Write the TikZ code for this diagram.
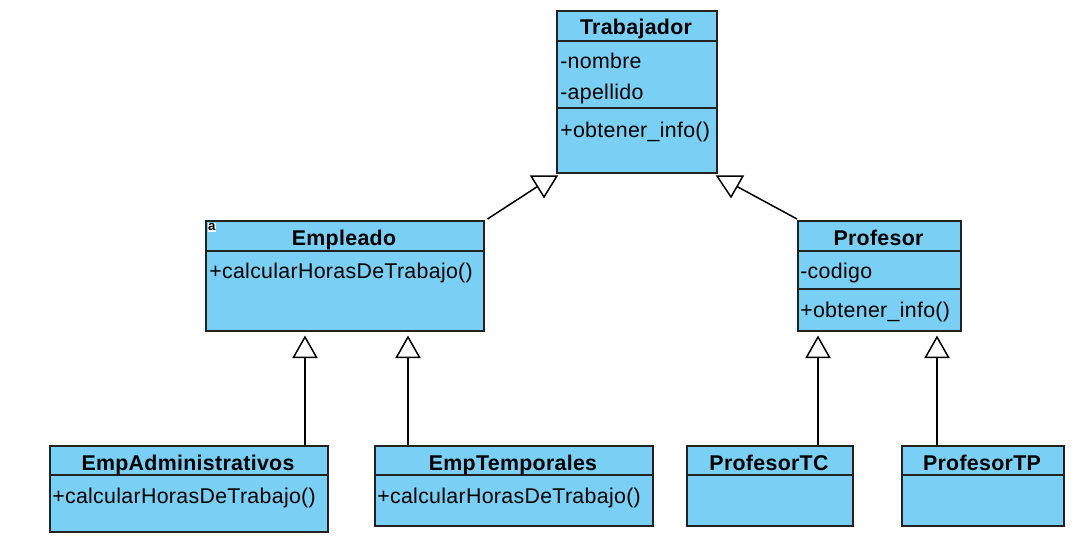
\documentclass[tikz,border=0pt]{standalone}
\usepackage{fontspec}
\setmainfont{Liberation Sans}[LetterSpace=1.5]
\usetikzlibrary{arrows.meta}
\definecolor{clsfill}{RGB}{122,207,244}
\definecolor{clsline}{RGB}{34,34,34}
\tikzset{
  cls/.style={draw=clsline, fill=clsfill, line width=1.125pt, inner sep=0pt, anchor=north west},
  div/.style={draw=clsline, line width=1.125pt},
  ttl/.style={font=\fontsize{16}{19}\selectfont\bfseries, inner sep=0pt, anchor=base},
  mem/.style={font=\fontsize{16}{19}\selectfont, inner sep=0pt, anchor=base west},
  conn/.style={draw=black, line width=1.125pt},
  inh/.style={conn, -{Triangle[open, length=17pt, width=19pt, line width=1.125pt]}, shorten >=3pt},
  tri/.style={draw=black, line width=1.125pt, fill=white, line join=miter},
}
\begin{document}
\begin{tikzpicture}[x=0.75pt, y=-0.75pt]
\useasboundingbox (0,0) rectangle (1082,550);

% class boxes
\node[cls, minimum width=120pt, minimum height=121.5pt] (trab) at (556,10) {};
\node[cls, minimum width=208.5pt, minimum height=82.5pt] (empl) at (205,220) {};
\node[cls, minimum width=122.25pt, minimum height=82.5pt] (prof) at (797,220) {};
\node[cls, minimum width=208.5pt, minimum height=64.5pt] (empadm) at (49,445) {};
\node[cls, minimum width=208.5pt, minimum height=60pt] (emptemp) at (374,445) {};
\node[cls, minimum width=124.5pt, minimum height=60pt] (proftc) at (686,445) {};
\node[cls, minimum width=121.5pt, minimum height=60pt] (proftp) at (901,445) {};

% dividers
\draw[div] (trab.west |- 0,41) -- (trab.east |- 0,41);
\draw[div] (trab.west |- 0,108) -- (trab.east |- 0,108);
\draw[div] (empl.west |- 0,251) -- (empl.east |- 0,251);
\draw[div] (prof.west |- 0,251) -- (prof.east |- 0,251);
\draw[div] (prof.west |- 0,289) -- (962,289);
\draw[div] (empadm.west |- 0,475) -- (empadm.east |- 0,475);
\draw[div] (emptemp.west |- 0,475) -- (emptemp.east |- 0,475);
\draw[div] (proftc.west |- 0,475) -- (proftc.east |- 0,475);
\draw[div] (proftp.west |- 0,475) -- (proftp.east |- 0,475);

% texts
\node[ttl] (trabT) at (636,34) {Trabajador};
\node[mem] (trabA1) at (560,68) {-nombre};
\node[mem] (trabA2) at (560,99) {-apellido};
\node[mem] (trabM1) at (560,137) {+obtener\_info()};

\node[ttl] (emplT) at (344,245) {Empleado};
\node[mem] (emplM1) at (209,278) {+calcularHorasDeTrabajo()};
\node[fill=white, inner sep=0pt, minimum width=6pt, minimum height=7pt, font=\fontsize{10}{10}\selectfont\bfseries, anchor=north west] (emplIcon) at (207.5,222.5) {a};

\node[ttl] (profT) at (878.5,245) {Profesor};
\node[mem] (profA1) at (800,278) {-codigo};
\node[mem] (profM1) at (800,317) {+obtener\_info()};

\node[ttl] (empadmT) at (188,470) {EmpAdministrativos};
\node[mem] (empadmM1) at (52,503) {+calcularHorasDeTrabajo()};

\node[ttl] (emptempT) at (513,470) {EmpTemporales};
\node[mem] (emptempM1) at (377,503) {+calcularHorasDeTrabajo()};

\node[ttl] (proftcT) at (769,470) {ProfesorTC};
\node[ttl] (proftpT) at (982,470) {ProfesorTP};

% top generalization arrows (as drawn in the reference)
\coordinate (tl1) at (531,176); \coordinate (tl2) at (557,176); \coordinate (tl3) at (544,197);
\coordinate (tlm) at (537.5,186.5);
\coordinate (tr1) at (717,176); \coordinate (tr2) at (743,176); \coordinate (tr3) at (731,197);
\coordinate (trm) at (737,186.5);
\draw[conn] ([shift={(3,-1)}]empl.north east) -- (tlm);
\draw[tri] (tl1) -- (tl2) -- (tl3) -- cycle;
\draw[conn] ([shift={(0,-1)}]prof.north west) -- (trm);
\draw[tri] (tr1) -- (tr2) -- (tr3) -- cycle;

% bottom generalization arrows
\coordinate (x1) at (305,0);
\coordinate (x2) at (408,0);
\coordinate (x3) at (818,0);
\coordinate (x4) at (937,0);
\draw[inh] (empadm.north -| x1) -- (empl.south -| x1);
\draw[inh] (emptemp.north -| x2) -- (empl.south -| x2);
\draw[inh] (proftc.north -| x3) -- (prof.south -| x3);
\draw[inh] (proftp.north -| x4) -- (prof.south -| x4);
\end{tikzpicture}
\end{document}
